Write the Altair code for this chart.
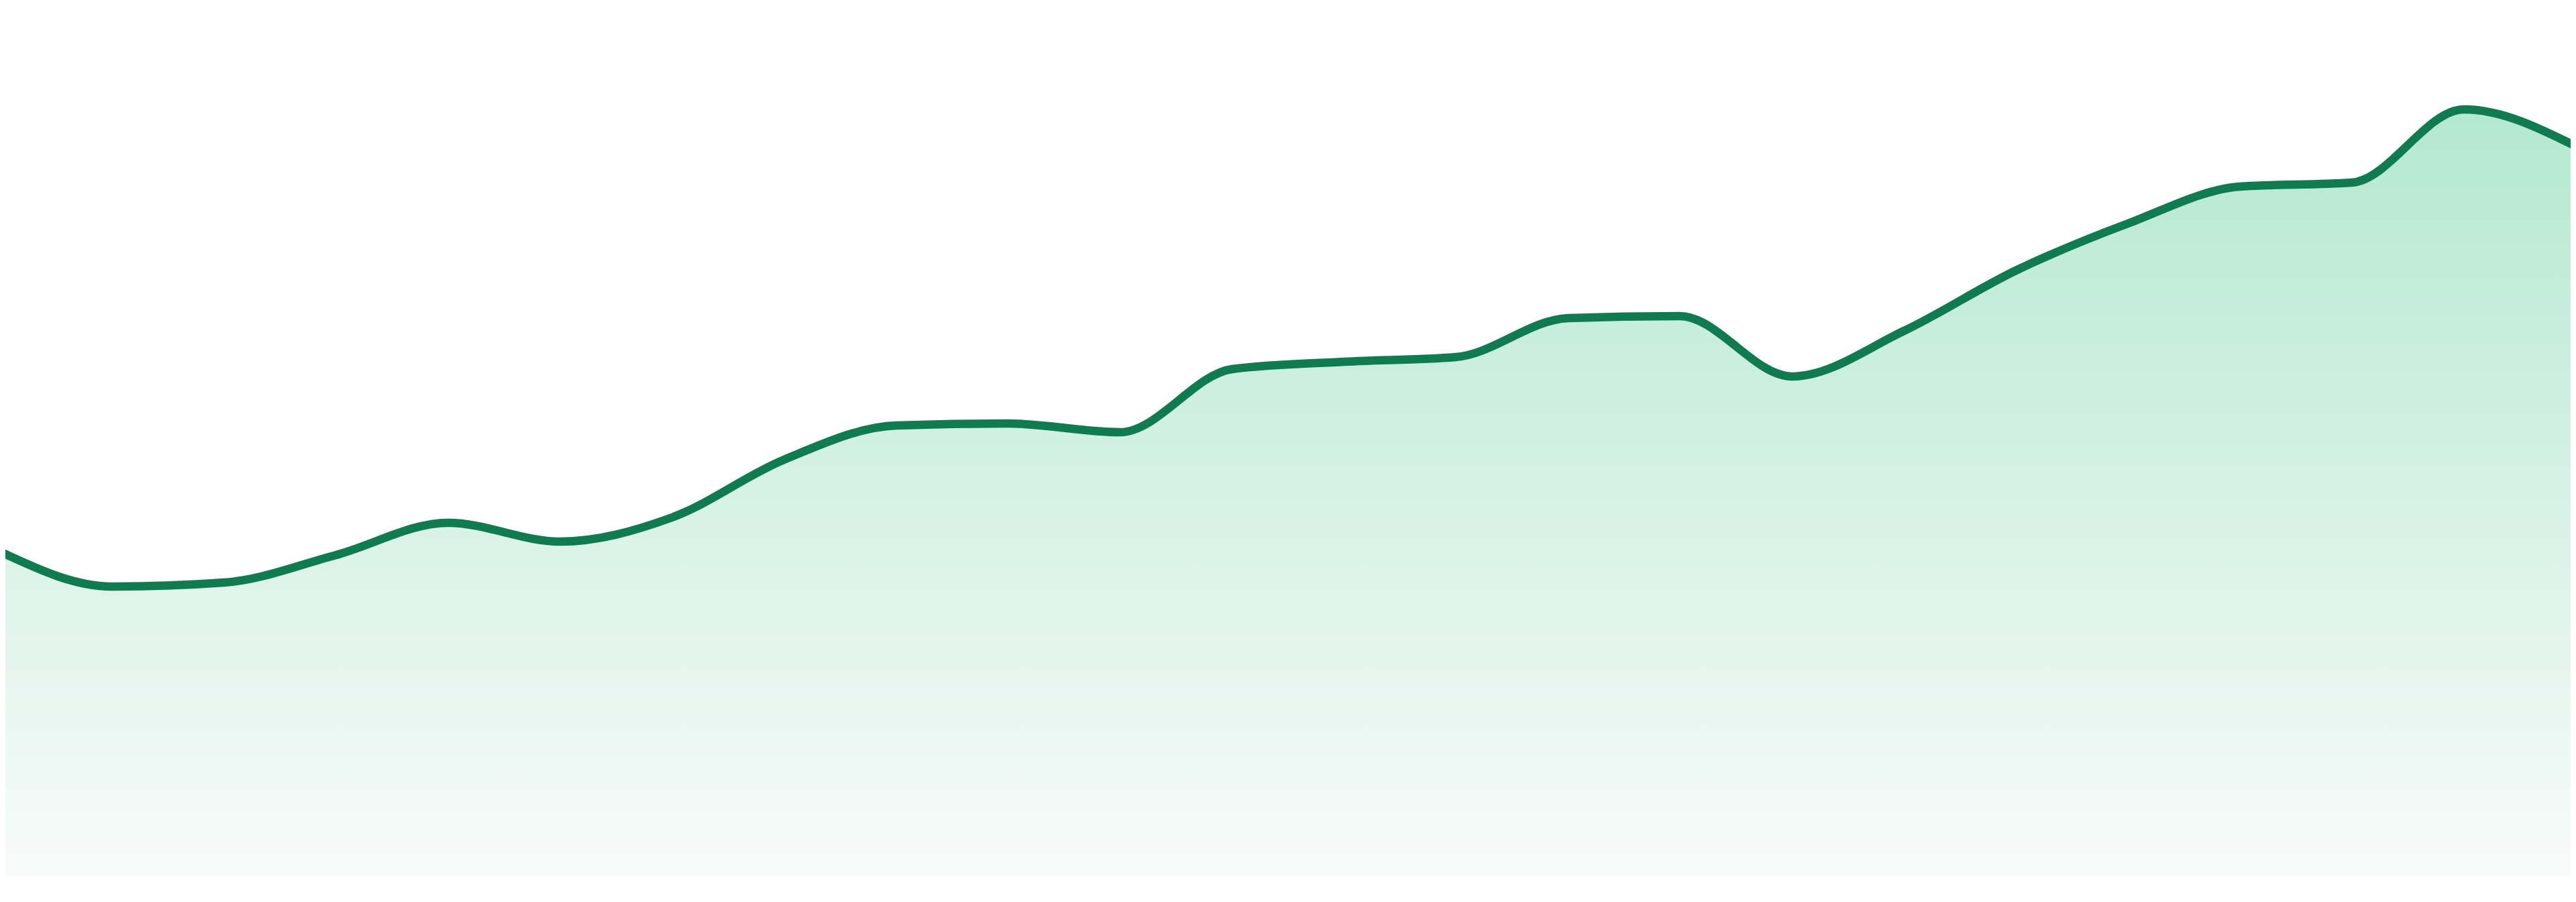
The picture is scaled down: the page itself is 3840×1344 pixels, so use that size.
import altair as alt
import pandas as pd

# values (24 evenly spaced points)
idx = list(range(24))
values = [48.3, 43.1, 43.7, 47.8, 52.6, 49.8, 53.4, 62.0, 67.1, 67.4, 66.1, 75.5,
          76.6, 77.3, 83.1, 83.4, 74.4, 81.2, 90.2, 97.2, 102.7, 103.3, 114.2, 108.7]

df = pd.DataFrame({"i": idx, "v": values})

# domain trimmed slightly so the curve runs edge to edge, as in the reference
x = alt.X("i:Q", axis=None, scale=alt.Scale(domain=[0.0479, 22.9521], nice=False, zero=False))
y = alt.Y("v:Q", axis=None, scale=alt.Scale(domain=[0, 129.7], nice=False, zero=True))

area = alt.Chart(df).mark_area(
    interpolate="monotone",
    line=False,
    clip=True,
    color=alt.Gradient(
        gradient="linear",
        stops=[alt.GradientStop(color="#b4e8d0", offset=0),
               alt.GradientStop(color="#f8fbfa", offset=1)],
        x1=0, x2=0, y1=0, y2=1,
    ),
).encode(x=x, y=y)

line = alt.Chart(df).mark_line(
    interpolate="monotone",
    color="#117b50",
    strokeWidth=12.5,
    strokeJoin="round",
    clip=True,
).encode(x=x, y=y)

chart = (area + line).properties(
    width=3824, height=1297, padding=0, background="white"
).configure_view(stroke=None)

chart.save("out.html", embed_options={"renderer": "svg", "actions": False})
